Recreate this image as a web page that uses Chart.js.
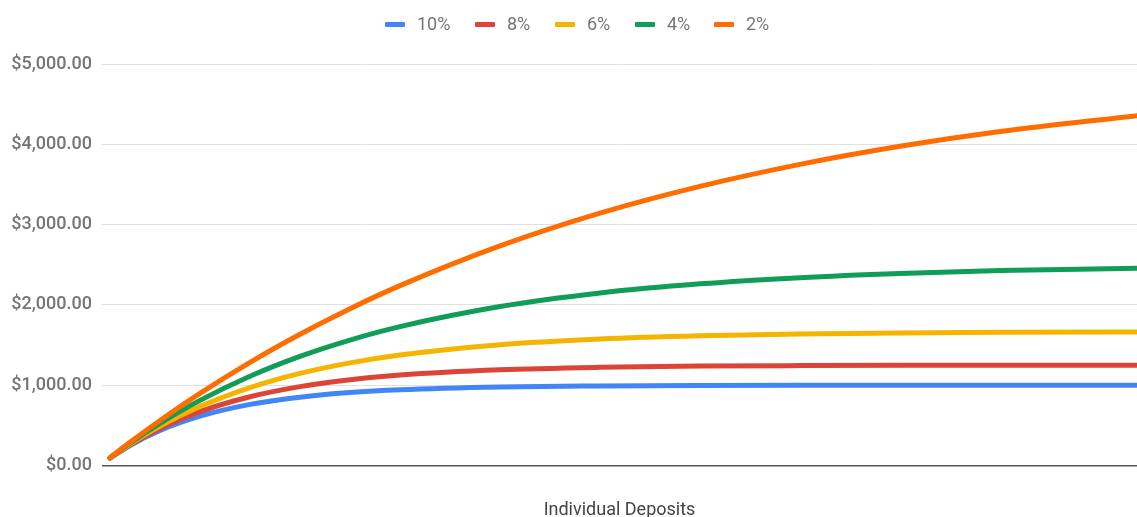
<!DOCTYPE html>
<html>
<head>
<meta charset="utf-8">
<script src="https://cdn.jsdelivr.net/npm/chart.js@4/dist/chart.umd.min.js"></script>
<style>
  html, body { margin: 0; padding: 0; background: #fff; overflow: hidden; }
  #wrap { position: relative; width: 1137px; height: 525px; }
  #legend { position: absolute; top: 13px; left: 0; width: 1137px; height: 22px; font: 18px Roboto, sans-serif; color: #757575; }
  .item { position: absolute; top: 0; height: 22px; line-height: 22px; }
  .item i { position: absolute; left: 0; top: 9px; width: 20px; height: 5px; border-radius: 1px; }
  .item span { position: absolute; left: 32px; white-space: nowrap; }
</style>
</head>
<body>
<div id="wrap">
  <canvas id="chart" width="1137" height="525"></canvas>
  <div id="legend"></div>
</div>
<script>
// deposit number of each sampled point
const deposits = [1, 3, 6, 10, 15, 20, 25, 30, 40, 50, 60, 70, 80, 90, 104];

// values
const rate10 = [91, 249, 436, 614, 761, 851, 908, 943, 978, 991, 997, 999, 1000, 1000, 1000];
const rate8  = [93, 258, 462, 671, 856, 982, 1067, 1126, 1192, 1223, 1238, 1244, 1247, 1249, 1250];
const rate6  = [94, 267, 492, 736, 971, 1147, 1278, 1376, 1505, 1576, 1616, 1639, 1651, 1658, 1663];
const rate4  = [96, 278, 524, 811, 1112, 1359, 1562, 1729, 1979, 2148, 2262, 2339, 2391, 2427, 2458];
const rate2  = [98, 288, 560, 898, 1285, 1635, 1953, 2240, 2735, 3143, 3476, 3750, 3975, 4159, 4361];

const seriesLabels = ['10%', '8%', '6%', '4%', '2%'];
const seriesData = [rate10, rate8, rate6, rate4, rate2];
const colors = ['#4285F4', '#DB4437', '#F4B400', '#0F9D58', '#FF6D01'];

const yTicks = [0, 1000, 2000, 3000, 4000, 5000];

const money = v => '$' + v.toLocaleString('en-US', { minimumFractionDigits: 2, maximumFractionDigits: 2 });

// html legend, google sheets style
const legendX = [385, 475, 555, 635, 714];
const legend = document.getElementById('legend');
seriesLabels.forEach((l, i) => {
    const d = document.createElement('div');
    d.className = 'item';
    d.style.left = legendX[i] + 'px';
    d.innerHTML = `<i style="background:${colors[i]}"></i><span>${l}</span>`;
    legend.appendChild(d);
});

const ctx = document.getElementById('chart');
new Chart(ctx, {
    type: 'line',
    data: {
        datasets: seriesData.map((vals, i) => ({
            label: seriesLabels[i],
            data: vals.map((v, j) => ({ x: deposits[j], y: v })),
            borderColor: colors[i],
            backgroundColor: colors[i],
            borderWidth: 5,
            borderCapStyle: 'round',
            pointRadius: 0,
            cubicInterpolationMode: 'monotone',
            order: seriesData.length - i // 2% on top
        }))
    },
    options: {
        responsive: false,
        animation: false,
        layout: { padding: { top: 64, right: 0, left: 0, bottom: 0 } },
        plugins: {
            legend: { display: false },
            tooltip: { enabled: false }
        },
        scales: {
            x: {
                type: 'linear',
                min: 0.2,
                max: 103.7,
                ticks: { display: false },
                grid: { display: false },
                border: { display: false },
                title: {
                    display: true,
                    text: 'Individual Deposits',
                    color: '#444',
                    font: { family: 'Roboto', size: 18 },
                    padding: { top: 0, bottom: 4 }
                },
                afterFit: s => { s.height = 59.5; }
            },
            y: {
                min: 0,
                max: 5000,
                afterBuildTicks: s => { s.ticks = yTicks.map(v => ({ value: v })); },
                ticks: {
                    color: '#757575',
                    padding: 10,
                    font: { family: 'Roboto', size: 18, weight: '500' },
                    callback: v => money(v)
                },
                grid: {
                    drawTicks: false,
                    color: c => c.tick && c.tick.value === 0 ? '#555' : '#e0e0e0',
                    lineWidth: c => c.tick && c.tick.value === 0 ? 1.5 : 1
                },
                border: { display: false },
                afterFit: s => { s.width = 102; }
            }
        }
    }
});
</script>
</body>
</html>
